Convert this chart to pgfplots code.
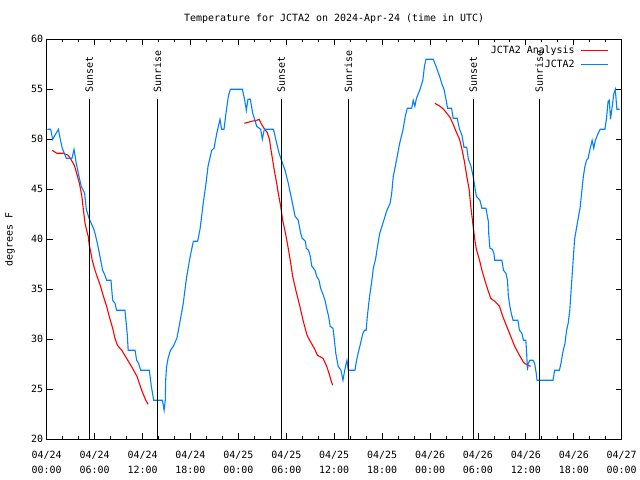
\documentclass[border=0pt]{standalone}
\usepackage{fontspec}
\setmainfont{DejaVu Sans Mono}
\usepackage{pgfplots}
\pgfplotsset{compat=1.18}
\definecolor{obsblue}{RGB}{0,128,255}
\definecolor{anared}{RGB}{255,0,0}

\begin{document}
\fontsize{10}{12}\selectfont
\begin{tikzpicture}
  \begin{axis}[
      scale only axis,
      width=575bp, height=400bp,
      xmin=0, xmax=72, ymin=20, ymax=60,
      xtick={0,6,...,72},
      minor x tick num=2,
      ytick={20,25,...,60},
      xticklabels={04/24\\00:00, 04/24\\06:00, 04/24\\12:00, 04/24\\18:00,
                   04/25\\00:00, 04/25\\06:00, 04/25\\12:00, 04/25\\18:00,
                   04/26\\00:00, 04/26\\06:00, 04/26\\12:00, 04/26\\18:00,
                   04/27\\00:00},
      xticklabel style={align=center, font=\fontsize{10}{15}\selectfont, yshift=-8bp},
      /pgf/number format/assume math mode=true,
      major tick length=6bp, minor tick length=3bp,
      tick style={black, line width=0.8bp},
      axis line style={line width=1bp},
      title={Temperature for JCTA2 on 2024-Apr-24 (time in UTC)},
      every axis title/.style={at={(axis description cs:0.5,1)}, anchor=center, yshift=20.3bp},
      ylabel={degrees F},
      every axis y label/.style={at={(axis description cs:-0.0638,0.5)}, rotate=90, anchor=center},
      unbounded coords=jump,
      legend style={draw=none, fill=none, at={(rel axis cs:0.978,0.988)}, anchor=north east,
                    inner sep=0pt, row sep=0.5bp},
      legend cell align=right,
      legend plot pos=right,
      legend image code/.code={\path (0bp,0bp); \draw[#1] (4bp,0bp) -- (31bp,0bp);},
    ]

    % analysis (three model runs)
    \addplot[anared, line width=1.1bp] coordinates {
      (0.7,48.9) (1.25,48.6) (2.1,48.6) (2.7,48.4) (3.1,47.9) (3.46,47.4) (3.75,46.6)
      (4.1,45.6) (4.4,44.3) (4.6,42.9) (4.8,41.6) (5.0,40.9) (5.2,40.3) (5.33,39.4)
      (5.5,38.8) (5.7,37.9) (6.05,36.9) (6.3,36.3) (6.7,35.4) (7.1,34.3) (7.5,33.3)
      (7.9,32.1) (8.26,31.1) (8.55,30.1) (8.85,29.4) (9.4,28.9) (10.0,28.1) (10.6,27.3)
      (11.3,26.3) (11.9,24.9) (12.4,23.9) (12.7,23.5)
      (18,nan)
      (24.75,51.6) (25.67,51.8) (26.3,51.9) (26.6,52) (26.9,51.5) (27.3,51) (27.6,50.7)
      (27.9,50) (28.05,49.1) (28.3,47.9) (28.5,46.9) (28.8,45.6) (29.0,44.6) (29.3,43.3)
      (29.55,41.9) (29.9,40.6) (30.2,39.3) (30.5,37.9) (30.8,36.3) (31.2,34.9) (31.7,33.3)
      (32.1,31.9) (32.6,30.4) (33.0,29.8) (33.5,29.1) (33.9,28.4) (34.6,28.1) (35.06,27.3)
      (35.35,26.6) (35.6,25.9) (35.8,25.4)
      (42,nan)
      (48.6,53.6) (49.25,53.3) (49.7,53) (50.1,52.6) (50.5,52.2) (50.9,51.5) (51.25,50.8)
      (51.7,50.0) (52.0,49.0) (52.3,47.8) (52.6,46.3) (52.9,45) (53.1,43.3) (53.3,42)
      (53.4,41.3) (53.6,40) (53.8,39.0) (54.2,37.9) (54.5,36.9) (54.9,35.8) (55.3,34.8)
      (55.6,34.1) (56.1,33.8) (56.7,33.3) (57.1,32.3) (57.6,31.3) (58.1,30.3) (58.6,29.3)
      (59.2,28.4) (59.7,27.7) (60.2,27.4) (60.6,27.3)
    };
    \addlegendentry{JCTA2 Analysis}

    % observations
    \addplot[obsblue, line width=1.1bp] coordinates {
      (0.08,51) (0.5,51) (0.75,50) (1.46,51) (1.7,50) (1.95,49.1) (2.46,48.1) (3.17,48.1)
      (3.42,49) (3.7,47.6) (4.04,46.3) (4.33,45.3) (4.75,44.6) (4.96,43) (5.3,42.1) (5.9,41.0)
      (6.05,40.6) (6.34,39.6) (6.67,38.3) (7.0,36.9) (7.3,36.4) (7.5,35.9) (8.05,35.9)
      (8.26,33.9) (8.55,33.6) (8.76,32.9) (9.8,32.9) (10.1,30.4) (10.2,28.9) (11.06,28.9)
      (11.27,27.9) (11.5,27.6) (11.77,26.9) (12.85,26.9) (13.1,25.3) (13.4,23.9) (14.5,23.9)
      (14.7,22.9) (14.85,23.9) (14.9,25.9) (15.0,27.2) (15.2,28.1) (15.5,28.9) (15.85,29.3)
      (16.3,30.1) (16.7,31.8) (17.1,33.6) (17.5,36.1) (17.9,38) (18.36,39.8) (18.9,39.8)
      (19.2,41) (19.6,43.6) (19.95,45.6) (20.2,47.3) (20.66,48.9) (20.95,49.1) (21.3,50.6)
      (21.7,52) (21.9,51) (22.2,51) (22.45,52.6) (22.75,54.3) (23.0,55) (24.5,55) (24.8,53.9)
      (25.0,52.9) (25.2,54) (25.5,54) (25.8,52.6) (26.3,51.3) (26.8,51.0) (27.0,50) (27.25,51)
      (28.4,51) (28.8,49.6) (29.1,48.6) (29.4,47.9) (29.85,46.9) (30.25,45.6) (30.7,43.9)
      (31.1,42.3) (31.5,41.9) (31.8,40.6) (32.0,40.1) (32.4,39.8) (32.5,39.1) (32.8,38.9)
      (33.0,38.3) (33.2,37.3) (33.6,36.9) (33.8,36.3) (34.1,35.9) (34.3,35.1) (34.6,34.5)
      (34.85,33.9) (35.06,33.1) (35.3,32.3) (35.5,31.3) (35.85,31.1) (36.0,30.1) (36.2,28.6)
      (36.5,27.3) (36.85,26.9) (37.1,25.9) (37.25,26.6) (37.5,27.6) (37.6,27.9) (37.77,26.9)
      (38.6,26.9) (38.8,27.9) (39.0,28.6) (39.3,29.6) (39.6,30.6) (39.8,30.9) (40.0,30.9)
      (40.15,32.3) (40.4,34.1) (40.7,35.8) (40.9,37.1) (41.2,38.1) (41.45,39.4) (41.7,40.6)
      (42.1,41.6) (42.6,42.9) (43.0,43.6) (43.2,44.6) (43.4,46.3) (43.8,47.9) (44.2,49.6)
      (44.6,50.9) (44.9,52.3) (45.15,53.1) (45.7,53.1) (45.9,53.9) (46.1,53.3) (46.3,54.1)
      (46.75,55) (47.1,55.9) (47.3,57.3) (47.5,58) (48.4,58) (48.75,57.3) (49.2,56.3)
      (49.5,55.5) (49.75,55) (50.0,54) (50.2,53.1) (50.7,53.1) (50.9,52.1) (51.4,52.1)
      (51.7,51) (52.0,50.4) (52.25,49.2) (52.6,49.2) (52.8,48.0) (53.1,47.4) (53.4,46.3)
      (53.6,45.3) (53.8,44.3) (54.25,43.9) (54.5,43.1) (55,43.1) (55.3,41.8) (55.35,40.6)
      (55.5,39.1) (55.8,39.0) (56.0,38.6) (56.1,37.9) (57.0,37.9) (57.2,36.9) (57.5,36.6)
      (57.7,35.9) (57.8,34.4) (58.0,33.3) (58.2,32.5) (58.4,31.9) (59.0,31.9) (59.2,30.9)
      (59.5,30.6) (59.7,29.9) (60.0,29.9) (60.1,28.6) (60.2,26.9) (60.3,27.6) (60.5,27.9)
      (60.9,27.9) (61.1,27.6) (61.3,26.6) (61.4,25.9) (63.4,25.9) (63.6,26.9) (64.2,26.9)
      (64.4,27.6) (64.6,28.6) (64.9,29.6) (65.1,30.9) (65.3,31.6) (65.5,32.9) (65.7,35.3)
      (65.9,37.6) (66.1,40) (66.4,41.4) (66.8,43.2) (67.2,46.3) (67.4,47.3) (67.6,47.9)
      (67.8,48.1) (68.0,48.9) (68.3,49.9) (68.5,49.1) (68.7,49.9) (69.06,50.6) (69.3,51)
      (69.9,51) (70.1,52.1) (70.3,53.8) (70.45,53.9) (70.6,52) (70.8,53.2) (71.0,54.5)
      (71.2,55) (71.4,53) (71.75,53)
    };
    \addlegendentry{JCTA2}

    % sunset / sunrise markers
    \addplot[black, line width=1bp, forget plot] coordinates {(5.33,20) (5.33,54)};
    \addplot[black, line width=1bp, forget plot] coordinates {(13.85,20) (13.85,54)};
    \addplot[black, line width=1bp, forget plot] coordinates {(29.38,20) (29.38,54)};
    \addplot[black, line width=1bp, forget plot] coordinates {(37.77,20) (37.77,54)};
    \addplot[black, line width=1bp, forget plot] coordinates {(53.42,20) (53.42,54)};
    \addplot[black, line width=1bp, forget plot] coordinates {(61.68,20) (61.68,54)};
    \node[rotate=90, anchor=west, inner sep=0pt] at (axis cs:5.33,54.7) {Sunset};
    \node[rotate=90, anchor=west, inner sep=0pt] at (axis cs:13.85,54.7) {Sunrise};
    \node[rotate=90, anchor=west, inner sep=0pt] at (axis cs:29.38,54.7) {Sunset};
    \node[rotate=90, anchor=west, inner sep=0pt] at (axis cs:37.77,54.7) {Sunrise};
    \node[rotate=90, anchor=west, inner sep=0pt] at (axis cs:53.42,54.7) {Sunset};
    \node[rotate=90, anchor=west, inner sep=0pt] at (axis cs:61.68,54.7) {Sunrise};
  \end{axis}
  \path[use as bounding box] (-46.7bp,-40.7bp) rectangle (593.3bp,439.3bp);
\end{tikzpicture}
\end{document}
